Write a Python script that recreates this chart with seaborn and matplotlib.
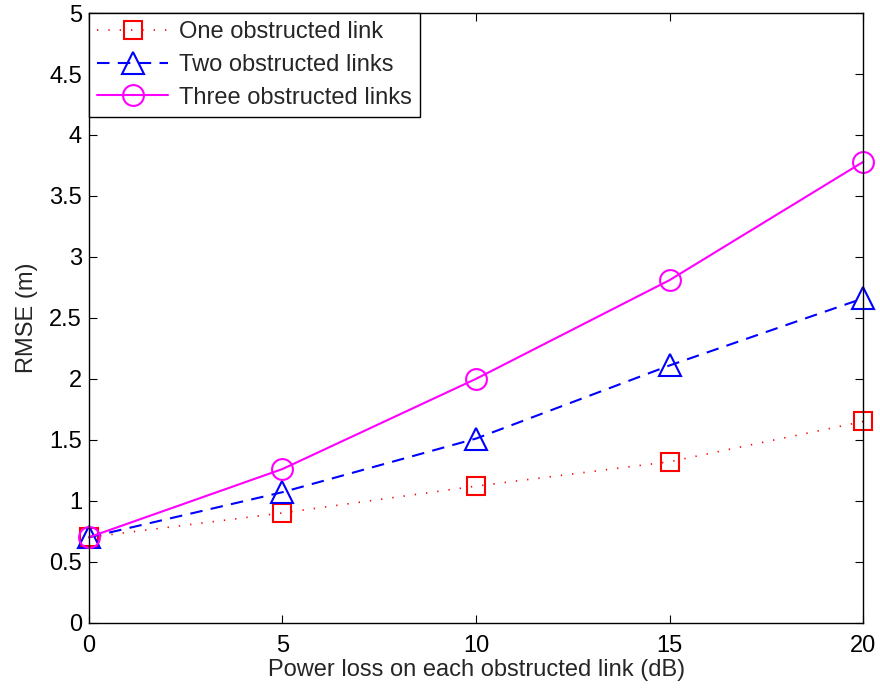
import matplotlib
matplotlib.use("Agg")
import matplotlib.pyplot as plt
import seaborn as sns
import pandas as pd

power_loss = [0, 5, 10, 15, 20]
one_link = [0.70, 0.90, 1.12, 1.32, 1.65]
two_links = [0.70, 1.07, 1.51, 2.11, 2.66]
three_links = [0.70, 1.26, 2.00, 2.81, 3.78]
labels = ["One obstructed link", "Two obstructed links", "Three obstructed links"]

sns.set_style("ticks")
plt.rcParams['font.family'] = ['Liberation Sans', 'DejaVu Sans']

fig = plt.figure(figsize=(8.8, 6.88), dpi=100)
ax = fig.add_axes([0.101, 0.095, 0.880, 0.886])

styles = [
    (one_link, "#ff0000", "s", (0, (0.8, 6)), 1.2, 13),
    (two_links, "#0000ff", "^", (0, (6, 4)), 1.5, 16),
    (three_links, "#ff00ff", "o", "-", 1.5, 15),
]
for (vals, col, mk, ls, lw, ms), lab in zip(styles, labels):
    df = pd.DataFrame({"x": power_loss, "y": vals})
    sns.lineplot(data=df, x="x", y="y", ax=ax, color=col, marker=mk,
                 linestyle=ls, linewidth=lw, markersize=ms,
                 markerfacecolor="none", markeredgecolor=col,
                 markeredgewidth=1.5, label=lab, clip_on=False)

ax.set_xlim(0, 20)
ax.set_ylim(0, 5)
ax.set_xticks([0, 5, 10, 15, 20])
ax.set_yticks([0, 0.5, 1, 1.5, 2, 2.5, 3, 3.5, 4, 4.5, 5])
ax.set_yticklabels(["0", "0.5", "1", "1.5", "2", "2.5", "3", "3.5", "4", "4.5", "5"])
ax.tick_params(direction="in", top=True, right=True, length=6, width=0.8,
               labelsize=17, colors="black")
ax.tick_params(axis="x", pad=9)
ax.tick_params(axis="y", pad=5)
for s in ax.spines.values():
    s.set_visible(True)
    s.set_linewidth(1.0)
    s.set_color("black")
ax.set_xlabel("Power loss on each obstructed link (dB)", fontsize=17, labelpad=1)
ax.set_ylabel("RMSE (m)", fontsize=17, labelpad=8)

leg = ax.legend(loc="upper left", fontsize=17, frameon=True, fancybox=False,
                edgecolor="black", framealpha=1, borderaxespad=0,
                handlelength=3.0, borderpad=0.35, labelspacing=0.45,
                handletextpad=0.45)
leg.get_frame().set_linewidth(1.0)
leg.set_zorder(5)

fig.savefig("out.png", dpi=100)
